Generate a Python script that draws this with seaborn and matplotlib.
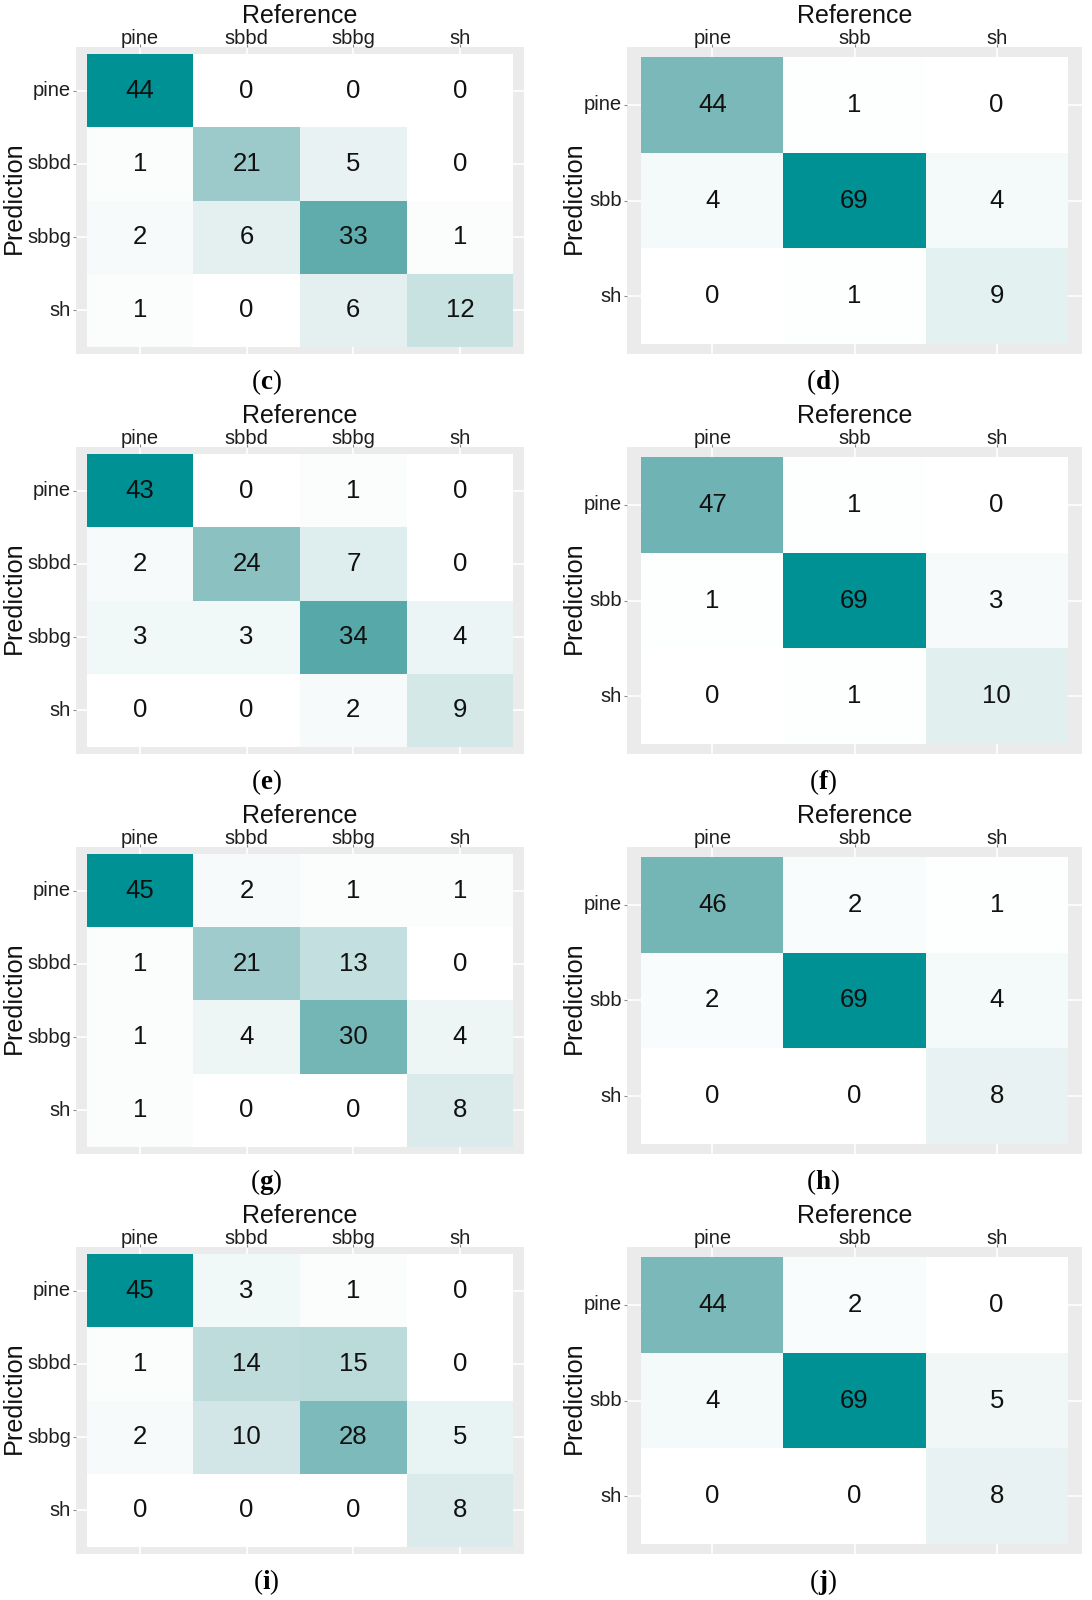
import numpy as np
import pandas as pd
import matplotlib
matplotlib.use("Agg")
import matplotlib.pyplot as plt
import seaborn as sns
from matplotlib.colors import ListedColormap

# class labels
classes4 = ["pine", "sbbd", "sbbg", "sh"]
classes3 = ["pine", "sbb", "sh"]

# confusion matrices (rows = Prediction, cols = Reference)
cm_c = [[44, 0, 0, 0], [1, 21, 5, 0], [2, 6, 33, 1], [1, 0, 6, 12]]
cm_d = [[44, 1, 0], [4, 69, 4], [0, 1, 9]]
cm_e = [[43, 0, 1, 0], [2, 24, 7, 0], [3, 3, 34, 4], [0, 0, 2, 9]]
cm_f = [[47, 1, 0], [1, 69, 3], [0, 1, 10]]
cm_g = [[45, 2, 1, 1], [1, 21, 13, 0], [1, 4, 30, 4], [1, 0, 0, 8]]
cm_h = [[46, 2, 1], [2, 69, 4], [0, 0, 8]]
cm_i = [[45, 3, 1, 0], [1, 14, 15, 0], [2, 10, 28, 5], [0, 0, 0, 8]]
cm_j = [[44, 2, 0], [4, 69, 5], [0, 0, 8]]

panel_letters = ["c", "d", "e", "f", "g", "h", "i", "j"]
panel_data = [cm_c, cm_d, cm_e, cm_f, cm_g, cm_h, cm_i, cm_j]
panel_classes = [classes4, classes3] * 4

plt.rcParams["font.family"] = ["Liberation Sans", "DejaVu Sans"]
plt.rcParams["mathtext.fontset"] = "custom"
plt.rcParams["mathtext.rm"] = "Liberation Serif"
plt.rcParams["mathtext.bf"] = "Liberation Serif:bold"

# white -> teal gradient interpolated in CIELAB (like ggplot's scale_fill_gradient)
M = np.array([[0.4124, 0.3576, 0.1805], [0.2126, 0.7152, 0.0722], [0.0193, 0.1192, 0.9505]])
WHITE = np.array([0.95047, 1.0, 1.08883])


def to_lab(rgb):
    c = np.asarray(rgb, float)
    lin = np.where(c <= 0.04045, c / 12.92, ((c + 0.055) / 1.055) ** 2.4)
    xyz = M @ lin / WHITE
    f = np.where(xyz > (6 / 29) ** 3, np.cbrt(xyz), xyz / (3 * (6 / 29) ** 2) + 4 / 29)
    return np.array([116 * f[1] - 16, 500 * (f[0] - f[1]), 200 * (f[1] - f[2])])


def from_lab(lab):
    L, a, b = lab
    fy = (L + 16) / 116
    f = np.array([fy + a / 500, fy, fy - b / 200])
    xyz = np.where(f > 6 / 29, f ** 3, 3 * (6 / 29) ** 2 * (f - 4 / 29)) * WHITE
    lin = np.clip(np.linalg.inv(M) @ xyz, 0, 1)
    c = np.where(lin <= 0.0031308, 12.92 * lin, 1.055 * lin ** (1 / 2.4) - 0.055)
    return np.clip(c, 0, 1)


lo = to_lab([1, 1, 1])
hi = to_lab(np.array([0x00, 0x91, 0x94]) / 255)
cmap = ListedColormap([from_lab(lo + t * (hi - lo)) for t in np.linspace(0, 1, 256)])

W, H = 1092, 1600
fig = plt.figure(figsize=(W / 100, H / 100), dpi=100)

x_left = [76, 627]
x_right = [524, 1082]
ylab_x = [14, 574]
cap_x = [266, 823]

for k, (letter, vals, labels) in enumerate(zip(panel_letters, panel_data, panel_classes)):
    row, col = divmod(k, 2)
    l, r = x_left[col], x_right[col]
    t, b = 47 + 400 * row, 354 + 400 * row
    ax = fig.add_axes([l / W, 1 - b / H, (r - l) / W, (b - t) / H])

    df = pd.DataFrame(vals, index=labels, columns=labels)
    n = len(labels)
    sns.heatmap(df, ax=ax, cmap=cmap, vmin=0, vmax=df.values.max(), annot=True, fmt="d",
                cbar=False, annot_kws={"size": 18.5, "color": "#111111"})
    ax.set_facecolor("#EBEBEB")
    ax.set_xlim(-0.1, n + 0.1)
    ax.set_ylim(n + 0.1, -0.1)
    ax.xaxis.tick_top()
    ax.set_xlabel("")
    ax.set_ylabel("")
    ax.tick_params(axis="both", length=2.5, width=0.8, color="#8c8c8c",
                   labelsize=14.5, labelcolor="#1e1e1e", pad=1.2)
    ax.tick_params(axis="y", rotation=0)
    ax.tick_params(axis="x", pad=-3)
    for s in ax.spines.values():
        s.set_visible(False)
    ax.set_axisbelow(True)
    ax.grid(True, color="white", lw=1.2)

    fig.text((l + r) / 2 / W, 1 - (23 + 400 * row) / H, "Reference", fontsize=18,
             ha="center", va="baseline", color="#111111")
    fig.text(ylab_x[col] / W, 1 - (198 + 400 * row) / H, "Prediction", fontsize=18.2,
             rotation=90, ha="center", va="center", color="#111111")
    fig.text(cap_x[col] / W, 1 - (382 + 400 * row) / H, rf"($\mathbf{{{letter}}}$)",
             family="Liberation Serif", fontsize=19.5, ha="center", va="center")

fig.savefig("out.png", dpi=100)
